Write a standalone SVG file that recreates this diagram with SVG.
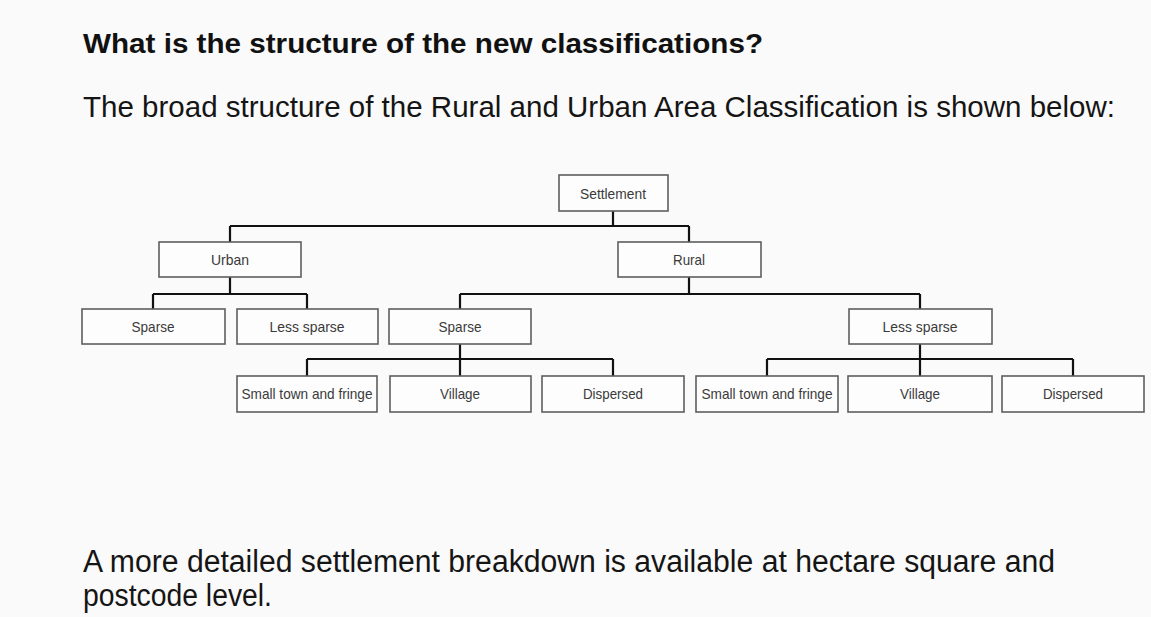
<svg xmlns="http://www.w3.org/2000/svg" width="1151" height="617" viewBox="0 0 1151 617">
  <style>
    .box { fill: #fdfdfd; stroke: #5e5e5e; stroke-width: 1.6; }
    .lbl { font-family: "Liberation Sans", Arial, sans-serif; font-size: 15px; fill: #3a3a3a; text-anchor: middle; }
    .conn { fill: none; stroke: #111; stroke-width: 2.2; }
    .title { font-family: "Liberation Sans", Arial, sans-serif; font-weight: bold; font-size: 27px; fill: #111; }
    .body { font-family: "Liberation Sans", Arial, sans-serif; font-size: 29px; fill: #151515; }
    .body2 { font-family: "Liberation Sans", Arial, sans-serif; font-size: 31px; fill: #151515; }
  </style>
  <rect x="0" y="0" width="1151" height="617" fill="#fafafa"/>
  <text class="title" x="83" y="53" textLength="680" lengthAdjust="spacingAndGlyphs">What is the structure of the new classifications?</text>
  <text class="body" x="83" y="117" textLength="1032" lengthAdjust="spacingAndGlyphs">The broad structure of the Rural and Urban Area Classification is shown below:</text>

  <g id="connectors">
    <path class="conn" d="M613,211 V226 M230,226 H689 M230,226 V242 M689,226 V242"/>
    <path class="conn" d="M230,277 V294 M153,294 H307 M153,294 V309 M307,294 V309"/>
    <path class="conn" d="M689,277 V294 M460,294 H920 M460,294 V309 M920,294 V309"/>
    <path class="conn" d="M460,344 V359 M307,359 H613 M307,359 V376 M460,359 V376 M613,359 V376"/>
    <path class="conn" d="M920,344 V359 M767,359 H1073 M767,359 V376 M920,359 V376 M1073,359 V376"/>
  </g>

  <g id="settlement"><rect class="box" x="559" y="175" width="109" height="36"/><text class="lbl" x="613" y="198.5" textLength="66" lengthAdjust="spacingAndGlyphs">Settlement</text></g>
  <g id="urban"><rect class="box" x="159" y="242" width="142" height="35"/><text class="lbl" x="230" y="264.5" textLength="38" lengthAdjust="spacingAndGlyphs">Urban</text></g>
  <g id="rural"><rect class="box" x="618" y="242" width="143" height="35"/><text class="lbl" x="689" y="264.5" textLength="32" lengthAdjust="spacingAndGlyphs">Rural</text></g>

  <g id="urban-sparse"><rect class="box" x="82" y="309" width="143" height="35"/><text class="lbl" x="153" y="331.5" textLength="43" lengthAdjust="spacingAndGlyphs">Sparse</text></g>
  <g id="urban-less-sparse"><rect class="box" x="237" y="309" width="141" height="35"/><text class="lbl" x="307" y="331.5" textLength="75" lengthAdjust="spacingAndGlyphs">Less sparse</text></g>
  <g id="rural-sparse"><rect class="box" x="389" y="309" width="142" height="35"/><text class="lbl" x="460" y="331.5" textLength="43" lengthAdjust="spacingAndGlyphs">Sparse</text></g>
  <g id="rural-less-sparse"><rect class="box" x="849" y="309" width="143" height="35"/><text class="lbl" x="920" y="331.5" textLength="75" lengthAdjust="spacingAndGlyphs">Less sparse</text></g>

  <g id="sparse-small-town"><rect class="box" x="237" y="376" width="140" height="36"/><text class="lbl" x="307" y="399" textLength="131" lengthAdjust="spacingAndGlyphs">Small town and fringe</text></g>
  <g id="sparse-village"><rect class="box" x="390" y="376" width="141" height="36"/><text class="lbl" x="460" y="399" textLength="40" lengthAdjust="spacingAndGlyphs">Village</text></g>
  <g id="sparse-dispersed"><rect class="box" x="542" y="376" width="142" height="36"/><text class="lbl" x="613" y="399" textLength="60" lengthAdjust="spacingAndGlyphs">Dispersed</text></g>
  <g id="less-sparse-small-town"><rect class="box" x="696" y="376" width="142" height="36"/><text class="lbl" x="767" y="399" textLength="131" lengthAdjust="spacingAndGlyphs">Small town and fringe</text></g>
  <g id="less-sparse-village"><rect class="box" x="848" y="376" width="144" height="36"/><text class="lbl" x="920" y="399" textLength="40" lengthAdjust="spacingAndGlyphs">Village</text></g>
  <g id="less-sparse-dispersed"><rect class="box" x="1002" y="376" width="142" height="36"/><text class="lbl" x="1073" y="399" textLength="60" lengthAdjust="spacingAndGlyphs">Dispersed</text></g>

  <text class="body2" x="83" y="572" textLength="972" lengthAdjust="spacingAndGlyphs">A more detailed settlement breakdown is available at hectare square and</text>
  <text class="body2" x="83" y="606" textLength="189" lengthAdjust="spacingAndGlyphs">postcode level.</text>
</svg>
